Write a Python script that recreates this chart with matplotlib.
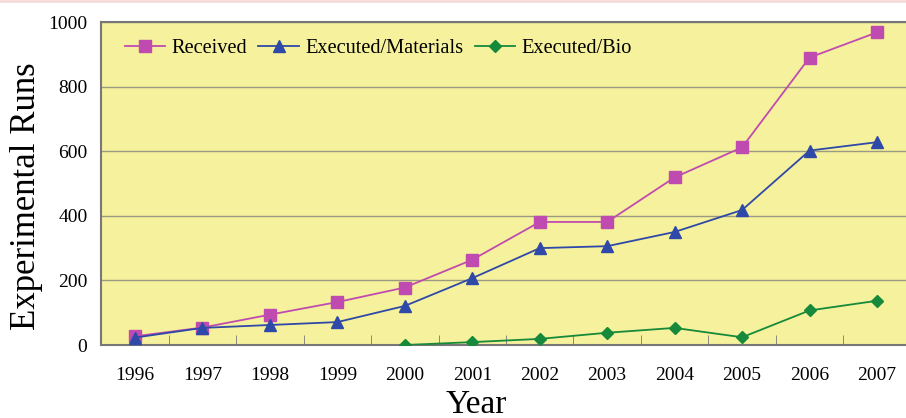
import numpy as np
import matplotlib
matplotlib.use('Agg')
import matplotlib.pyplot as plt
from matplotlib.ticker import FixedLocator

years = ['1996', '1997', '1998', '1999', '2000', '2001', '2002', '2003', '2004', '2005', '2006', '2007']
received = [27, 54, 94, 133, 178, 264, 381, 381, 519, 612, 890, 968]
executed_materials = [23, 53, 62, 71, 121, 207, 300, 306, 350, 418, 602, 628]
bio_years = ['2000', '2001', '2002', '2003', '2004', '2005', '2006', '2007']
executed_bio = [0, 9, 19, 38, 53, 24, 107, 137]

plt.rcParams['font.family'] = ['Liberation Serif', 'DejaVu Serif']

fig = plt.figure(figsize=(9.06, 4.18), dpi=100)
ax = fig.add_axes([0.1118, 0.1746, 0.8934, 0.7727])
ax.set_facecolor('#F6F19C')

x = np.arange(len(years))
xb = np.array([years.index(y) for y in bio_years])

ax.plot(x, received, color='#C04BB0', marker='s', markersize=8, lw=1.3, label='Received', zorder=3)
ax.plot(x, executed_materials, color='#2F49A8', marker='^', markersize=9, lw=1.3, label='Executed/Materials', zorder=3)
ax.plot(xb, executed_bio, color='#16893A', marker='D', markersize=6, lw=1.3, label='Executed/Bio', zorder=3)

ax.set_xlim(-0.5, 11.5)
ax.set_ylim(0, 1000)
ax.set_yticks([0, 200, 400, 600, 800, 1000])
ax.yaxis.grid(True, color='#9A9A80', lw=1)
ax.set_axisbelow(True)

ax.set_xticks(x)
ax.set_xticklabels(years, fontsize=14)
ax.xaxis.set_minor_locator(FixedLocator(np.arange(-0.5, 12, 1)))
ax.tick_params(axis='x', which='major', length=0, pad=16)
ax.tick_params(axis='x', which='minor', direction='in', length=7, color='#777777')
ax.tick_params(axis='y', length=0, labelsize=14, pad=10)

for s in ['left', 'bottom', 'top']:
    ax.spines[s].set_color('#777777')
    ax.spines[s].set_linewidth(1.5)
ax.spines['right'].set_visible(False)

ax.set_ylabel('Experimental Runs', fontsize=25)
ax.yaxis.set_label_coords(-0.072, 0.46)
ax.set_xlabel('Year', fontsize=24)
ax.xaxis.set_label_coords(0.463, -0.138)

ax.legend(loc='upper left', ncol=3, frameon=False, fontsize=14.7, handlelength=2.0,
          columnspacing=0.55, handletextpad=0.3, bbox_to_anchor=(0.006, 1.005))

fig.add_artist(plt.Line2D([0, 1], [0.998, 0.998], color='#F6DADA', lw=2, transform=fig.transFigure))

fig.savefig('out.png', dpi=100)
